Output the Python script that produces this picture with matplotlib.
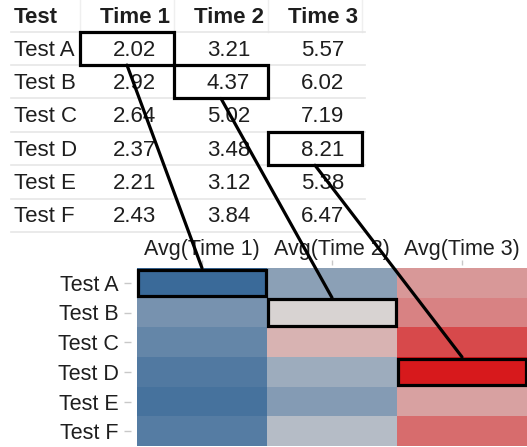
import numpy as np
import matplotlib
matplotlib.use("Agg")
import matplotlib.pyplot as plt
from matplotlib.colors import LinearSegmentedColormap, TwoSlopeNorm
from matplotlib.patches import Rectangle, ConnectionPatch

plt.rcParams['font.family'] = ['Liberation Sans', 'DejaVu Sans']

tests = ["Test A", "Test B", "Test C", "Test D", "Test E", "Test F"]
time_cols = ["Time 1", "Time 2", "Time 3"]
time1 = [2.02, 2.92, 2.64, 2.37, 2.21, 2.43]
time2 = [3.21, 4.37, 5.02, 3.48, 3.12, 3.84]
time3 = [5.57, 6.02, 7.19, 8.21, 5.38, 6.47]
# (row, time column) cells linked between the table and the heatmap
picked = [(0, 0), (1, 1), (3, 2)]

vals = np.column_stack([time1, time2, time3])

W, H = 527, 447
fig = plt.figure(figsize=(W / 100, H / 100), dpi=100)

txt = '#1e1e1e'
grid = '#e6e6e6'

# ---- the source table ----
tab = fig.add_axes([0, 1 - 232 / H, 365 / W, 232 / H])
tab.set_xlim(-0.351, 3.532)
tab.set_ylim(6.5, -0.45)
tab.axis('off')

tab.text(-0.2, 0.08, "Test", ha='left', va='center', fontsize=16,
         fontweight='bold', color=txt)
for j, name in enumerate(time_cols):
    tab.text(j + 1.46, 0.08, name, ha='right', va='center', fontsize=16,
             fontweight='bold', color=txt)
for x in [0.5, 1.5, 2.5, 3.5]:
    tab.plot([x, x], [-0.45, 0.5], color='#efefef', lw=1, clip_on=False)

for r, name in enumerate(tests):
    tab.text(-0.2, r + 1.05, name, ha='left', va='center', fontsize=16, color=txt)
    for j in range(3):
        tab.text(j + 1.31, r + 1.05, f"{vals[r, j]:.2f}", ha='right',
                 va='center', fontsize=16, color=txt)
for y in np.arange(0.5, 7, 1):
    tab.plot([-0.234, 3.532], [y, y], color=grid, lw=1.2, clip_on=False)

for r, j in picked:
    tab.add_patch(Rectangle((j + 0.5, r + 0.5), 1, 1, fill=False,
                            ec='black', lw=2.3, clip_on=False, zorder=5))

# ---- the heatmap ----
hm = fig.add_axes([137 / W, 1 / H, 390 / W, 178 / H])
cmap = LinearSegmentedColormap.from_list(
    'rdbu_tab', ['#3a6a99', '#d9d4d3', '#d7191c'])
norm = TwoSlopeNorm(vmin=vals.min(), vcenter=4.35, vmax=vals.max())
hm.imshow(vals, cmap=cmap, norm=norm, aspect='auto', interpolation='nearest')

hm.xaxis.tick_top()
hm.set_xticks(range(3))
hm.set_xticklabels([f"Avg({c})" for c in time_cols])
hm.set_yticks(range(len(tests)))
hm.set_yticklabels(tests)
hm.tick_params(axis='x', length=3.5, width=1, color='#c8c8c8', pad=0.5,
               labelsize=15.5, labelcolor=txt)
hm.tick_params(axis='y', length=5, width=1, color='#c8c8c8', pad=4,
               labelsize=15.5, labelcolor=txt)
for s in hm.spines.values():
    s.set_visible(False)
hm.spines['left'].set_position(('outward', 4))
hm.spines['top'].set_position(('outward', 2))

for r, j in picked:
    hm.add_patch(Rectangle((j - 0.49, r - 0.44), 0.98, 0.88, fill=False,
                           ec='black', lw=2.3, clip_on=False, zorder=5))
    # link the table cell to its heatmap cell
    con = ConnectionPatch(xyA=(j + 1, r + 1.5), coordsA=tab.transData,
                          xyB=(j, r - 0.5), coordsB=hm.transData,
                          color='black', lw=2.3, zorder=10)
    fig.add_artist(con)

fig.savefig("out.png", dpi=100)
